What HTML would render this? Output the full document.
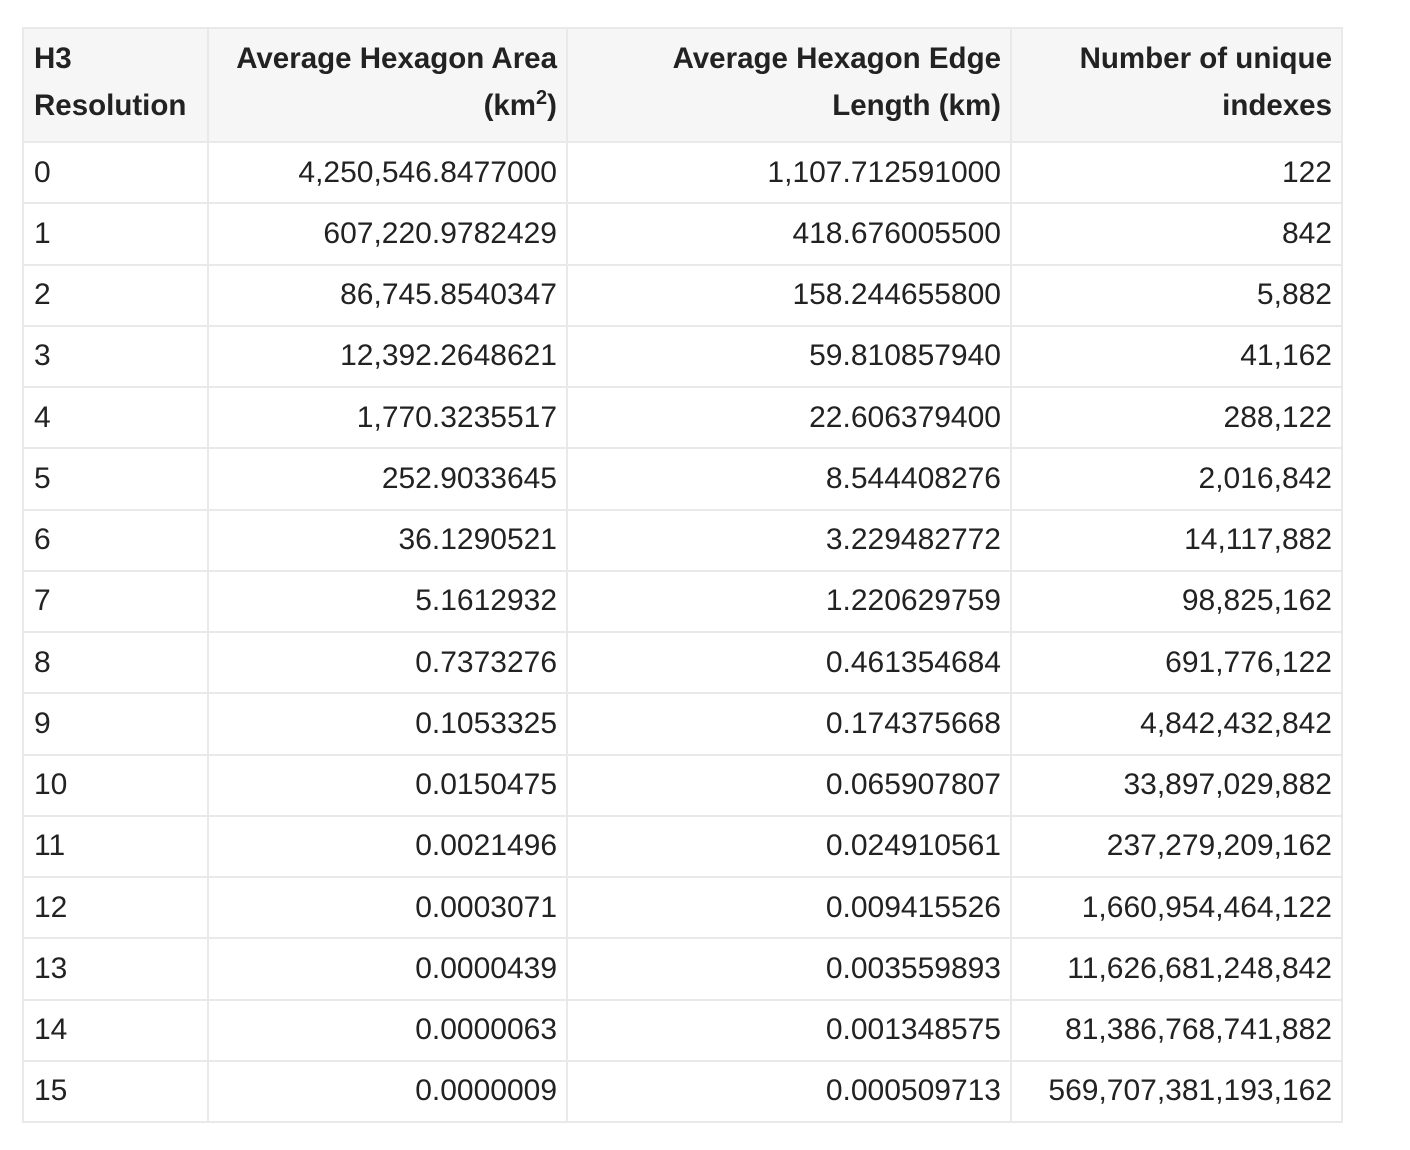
<!DOCTYPE html>
<html><head><meta charset="utf-8"><style>
html,body{margin:0;padding:0;background:#fff;width:1410px;height:1150px;overflow:hidden}
table{position:absolute;left:22px;top:27px;border-collapse:collapse;font-family:"Liberation Sans",Arial,sans-serif;color:#222;table-layout:fixed}
td,th{border:2px solid #e9e9e9;padding:0 9px 0 10px;font-size:30px;height:59.25px;white-space:nowrap}
th{background:#f6f6f6;font-weight:bold;text-align:right;vertical-align:top;line-height:47px;height:106px;padding-top:6px;padding-bottom:0;font-size:29.5px}
th.l{text-align:left}
td{text-align:right}
td.l{text-align:left}
sup{font-size:20px;line-height:0}
</style></head><body>
<table>
<colgroup><col style="width:185px"><col style="width:359px"><col style="width:444px"><col style="width:331px"></colgroup>
<thead><tr>
<th class="l">H3<br>Resolution</th>
<th>Average Hexagon Area<br>(km<sup>2</sup>)</th>
<th>Average Hexagon Edge<br>Length (km)</th>
<th>Number of unique<br>indexes</th>
</tr></thead>
<tbody id="tb"></tbody>
</table>
<script>
const resolutions=["0","1","2","3","4","5","6","7","8","9","10","11","12","13","14","15"];
const areas=["4,250,546.8477000","607,220.9782429","86,745.8540347","12,392.2648621","1,770.3235517","252.9033645","36.1290521","5.1612932","0.7373276","0.1053325","0.0150475","0.0021496","0.0003071","0.0000439","0.0000063","0.0000009"];
const edges=["1,107.712591000","418.676005500","158.244655800","59.810857940","22.606379400","8.544408276","3.229482772","1.220629759","0.461354684","0.174375668","0.065907807","0.024910561","0.009415526","0.003559893","0.001348575","0.000509713"];
const counts=["122","842","5,882","41,162","288,122","2,016,842","14,117,882","98,825,162","691,776,122","4,842,432,842","33,897,029,882","237,279,209,162","1,660,954,464,122","11,626,681,248,842","81,386,768,741,882","569,707,381,193,162"];
const tb=document.getElementById('tb');
resolutions.forEach((r,i)=>{
  const tr=document.createElement('tr');
  
  
  const vals=[r,areas[i],edges[i],counts[i]];
  const names=['resolution-cell','area-cell','edge-cell','count-cell'];
  vals.forEach((v,j)=>{
    const td=document.createElement('td');
    
    
    if(j===0)td.className='l';
    td.textContent=v;
    tr.appendChild(td);
  });
  tb.appendChild(tr);
});
</script>
</body></html>
